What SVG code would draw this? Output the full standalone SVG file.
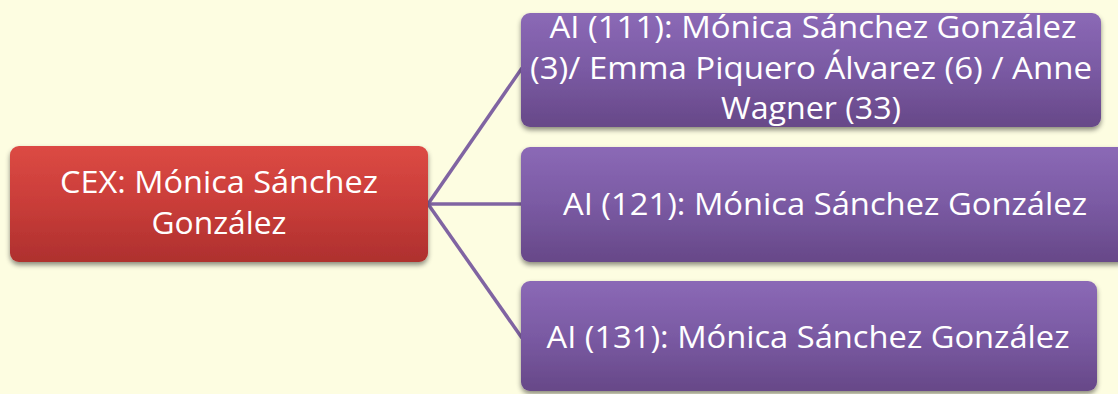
<svg xmlns="http://www.w3.org/2000/svg" width="1118" height="394" viewBox="0 0 1118 394">
<defs>
<linearGradient id="gr" x1="0" y1="0" x2="0" y2="1"><stop offset="0" stop-color="#DC4A44"/><stop offset="0.5" stop-color="#C93D39"/><stop offset="1" stop-color="#AE302E"/></linearGradient>
<linearGradient id="gp" x1="0" y1="0" x2="0" y2="1"><stop offset="0" stop-color="#8B69B6"/><stop offset="0.5" stop-color="#7A5AA3"/><stop offset="1" stop-color="#674888"/></linearGradient>
<filter id="sh" x="-5%" y="-10%" width="110%" height="130%"><feDropShadow dx="0" dy="3" stdDeviation="2.5" flood-color="#000" flood-opacity="0.45"/></filter>
<style>
.t{font-family:"Open Sans","Liberation Sans",sans-serif;font-size:31px;fill:#fff;text-anchor:middle}
.c{stroke:#8064A2;stroke-width:3.5;fill:none}
</style>
</defs>
<rect width="1118" height="394" fill="#FDFDE1"/>
<g id="connectors">
<line class="c" x1="428" y1="204" x2="522" y2="68"/>
<line class="c" x1="428" y1="204" x2="522" y2="204"/>
<line class="c" x1="428" y1="204" x2="522" y2="338"/>
</g>
<g id="cex">
<rect x="10" y="146" width="418" height="116" rx="9" fill="url(#gr)" filter="url(#sh)"/>
<text class="t" x="219" y="193" textLength="318" lengthAdjust="spacingAndGlyphs">CEX: Mónica Sánchez</text>
<text class="t" x="219" y="234" textLength="135" lengthAdjust="spacingAndGlyphs">González</text>
</g>
<g id="ai111">
<rect x="521" y="13" width="580" height="114" rx="9" fill="url(#gp)" filter="url(#sh)"/>
<text class="t" x="813" y="38" textLength="527" lengthAdjust="spacingAndGlyphs">AI (111): Mónica Sánchez González</text>
<text class="t" x="811" y="79" textLength="562" lengthAdjust="spacingAndGlyphs">(3)/ Emma Piquero Álvarez (6) / Anne</text>
<text class="t" x="811" y="119" textLength="180" lengthAdjust="spacingAndGlyphs">Wagner (33)</text>
</g>
<g id="ai121">
<rect x="521" y="147" width="606" height="115" rx="9" fill="url(#gp)" filter="url(#sh)"/>
<text class="t" x="825" y="215" textLength="524" lengthAdjust="spacingAndGlyphs">AI (121): Mónica Sánchez González</text>
</g>
<g id="ai131">
<rect x="521" y="281" width="576" height="110" rx="9" fill="url(#gp)" filter="url(#sh)"/>
<text class="t" x="808" y="348" textLength="523" lengthAdjust="spacingAndGlyphs">AI (131): Mónica Sánchez González</text>
</g>
</svg>
